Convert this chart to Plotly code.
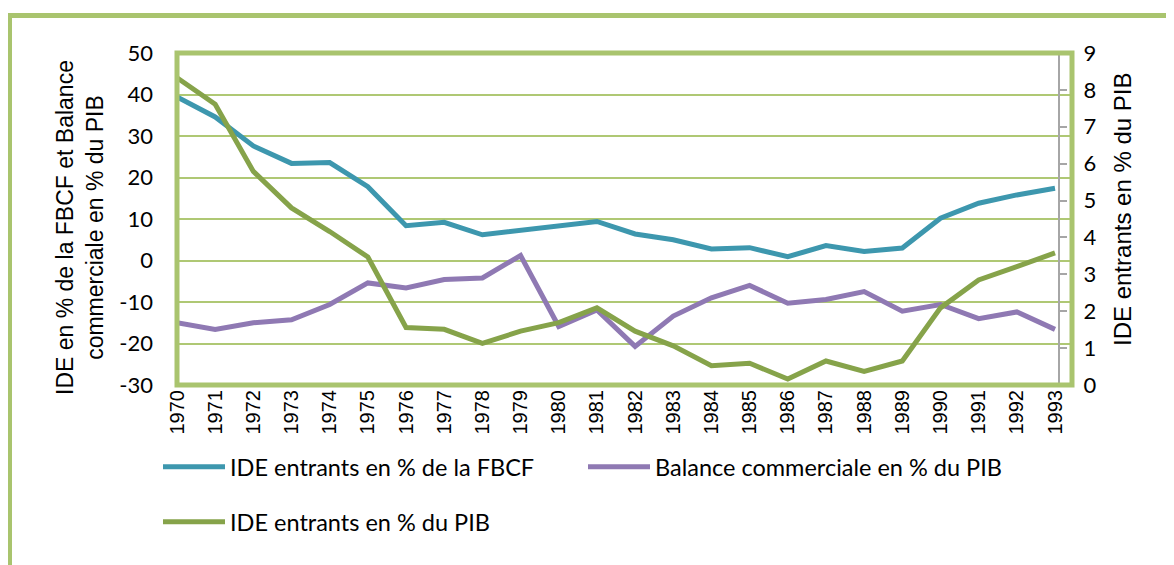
import plotly.graph_objects as go

years = list(range(1970, 1994))
ide_fbcf = [39.4, 34.6, 27.6, 23.4, 23.6, 17.8, 8.4, 9.2, 6.2, 7.3, 8.1, 9.4,
            6.4, 5.0, 2.8, 3.1, 0.9, 3.6, 2.2, 3.0, 10.2, 13.8, 15.8, 17.4]
balance = [-15.0, -16.6, -15.0, -14.3, -10.6, -5.4, -6.6, -4.6, -4.2, 1.2, -15.9, -11.9,
           -20.7, -13.4, -9.0, -6.0, -10.3, -9.4, -7.5, -12.2, -10.6, -14.0, -12.4, -16.6]
ide_pib = [8.33, 7.61, 5.79, 4.80, 4.16, 3.47, 1.56, 1.51, 1.13, 1.46, 1.69, 2.09,
           1.46, 1.06, 0.52, 0.59, 0.16, 0.65, 0.37, 0.65, 2.09, 2.85, 3.21, 3.58]
year_labels = [str(y) for y in years]
left_ticks = list(range(-30, 51, 10))
left_tick_labels = [str(v) for v in left_ticks]
right_ticks = list(range(0, 10))
right_tick_labels = [str(v) for v in right_ticks]

names = ["IDE entrants en % de la FBCF", "Balance commerciale en % du PIB", "IDE entrants en % du PIB"]
colors = ["#3D97AE", "#8F79B3", "#86A34A"]
frame_green = "#A9C46E"
grid_green = "#AFC874"

# page body has an 8px margin: figure is offset by 8px
OFF = 8
W, H = 1174 - OFF, 565 - OFF
L, T = 177 - OFF, 53 - OFF
PW, PH = 895, 332
R, B = W - L - PW, H - T - PH


def px(xpage):
    return (xpage - OFF - L) / PW


def py(ypage):
    return (T + PH - (ypage - OFF)) / PH


fig = go.Figure()
fig.add_trace(go.Scatter(x=years, y=ide_fbcf, name=names[0], mode="lines",
                         line=dict(color=colors[0], width=5), legend="legend"))
fig.add_trace(go.Scatter(x=years, y=balance, name=names[1], mode="lines",
                         line=dict(color=colors[1], width=5), legend="legend"))
fig.add_trace(go.Scatter(x=years, y=ide_pib, name=names[2], mode="lines",
                         line=dict(color=colors[2], width=5), yaxis="y2", legend="legend2"))

xr = [1970, 1970 + PW / ((1055 - 177) / 23)]

fig.update_layout(
    width=W, height=H,
    margin=dict(l=L, r=R, t=T, b=B, autoexpand=False),
    paper_bgcolor="white", plot_bgcolor="white",
    showlegend=True,
    xaxis=dict(range=xr, tickvals=years, ticktext=year_labels, tickangle=-90,
               showgrid=False, zeroline=False, showline=False, ticks="",
               tickfont=dict(family="Liberation Sans, Arial", size=20, color="black"),
               ticklabelstandoff=0),
    xaxis2=dict(range=xr, overlaying="x", anchor="free", position=0.375, side="bottom",
                tickvals=years, showticklabels=False, ticks="outside", ticklen=6,
                tickwidth=2, tickcolor=frame_green, showline=True, linecolor=frame_green,
                linewidth=2, showgrid=False, zeroline=False),
    yaxis=dict(range=[-30, 50], tickvals=left_ticks, ticktext=left_tick_labels,
               showgrid=True, gridcolor=grid_green,
               gridwidth=1.5, zeroline=False, showline=False, ticks="",
               tickfont=dict(family="Lato", size=22, color="black"),
               ticklabelstandoff=23),
    yaxis2=dict(range=[0, 9], tickvals=right_ticks, ticktext=right_tick_labels,
                overlaying="y", side="right",
                anchor="free", position=px(1059),
                showgrid=False, zeroline=False, showline=True, linecolor="#A6A6A6",
                linewidth=2, ticks="outside", ticklen=7, tickwidth=2, tickcolor="#A6A6A6",
                tickfont=dict(family="Lato", size=22, color="black"),
                ticklabelstandoff=12),
    legend=dict(orientation="h", x=px(158), xanchor="left", y=py(467), yanchor="middle",
                entrywidth=348, entrywidthmode="pixels", itemwidth=62,
                font=dict(family="Lato", size=23.5, color="black"), bgcolor="rgba(0,0,0,0)"),
    legend2=dict(orientation="h", x=px(158), xanchor="left", y=py(522), yanchor="middle",
                 itemwidth=62,
                 font=dict(family="Lato", size=23.5, color="black"), bgcolor="rgba(0,0,0,0)"),
)

fig.add_annotation(text="IDE en % de la FBCF et Balance<br>commerciale en % du PIB",
                   xref="paper", yref="paper", x=px(80), y=py(228), xanchor="center",
                   yanchor="middle", textangle=-90, showarrow=False,
                   font=dict(family="Liberation Sans, Arial", size=23, color="black"))
fig.add_annotation(text="IDE entrants en % du PIB",
                   xref="paper", yref="paper", x=px(1122), y=py(210), xanchor="center",
                   yanchor="middle", textangle=-90, showarrow=False,
                   font=dict(family="Liberation Sans, Arial", size=24, color="black"))

# plot-area frame
fig.add_shape(type="rect", xref="paper", yref="paper", x0=0, y0=0, x1=1, y1=1,
              line=dict(color=frame_green, width=5), layer="above")
# outer chart frame
fig.add_shape(type="rect", xref="paper", yref="paper",
              x0=px(9.5), y0=py(15.5), x1=1.5, y1=-1,
              line=dict(color=frame_green, width=5), layer="below")

fig.write_html("out.html")
